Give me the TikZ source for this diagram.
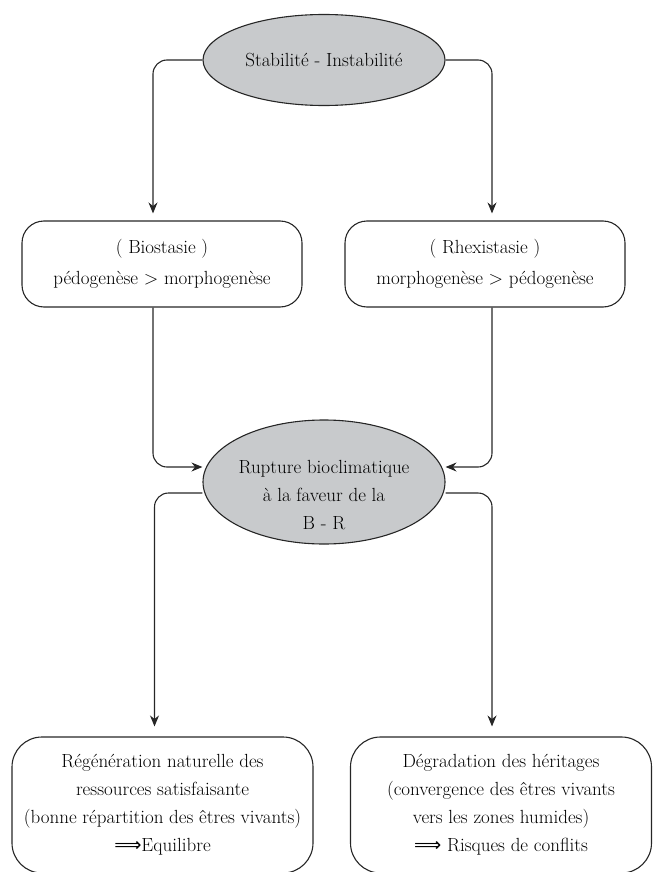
\documentclass[tikz,border=0pt]{standalone}
\usepackage{fontspec}
\usepackage{tikz}
\usetikzlibrary{arrows.meta,shapes.geometric}
\newfontfamily\arrowfont{DejaVu Sans}
\definecolor{ovalgray}{RGB}{200,202,204}

\begin{document}
\begin{tikzpicture}[
    x=1pt,
    y=-1pt,
    every node/.style={font=\fontsize{19}{28}\selectfont},
    oval/.style={ellipse, draw=black!85, line width=1.1pt, fill=ovalgray, inner sep=0pt},
    phase/.style={draw=black!85, line width=1.1pt, rounded corners=22pt, minimum width=280pt, minimum height=86pt, align=center, inner sep=0pt},
    outcome/.style={draw=black!85, line width=1.1pt, rounded corners=30pt, minimum width=301pt, minimum height=136pt, align=center, inner sep=0pt},
    flow/.style={-{Stealth[length=11pt,width=9pt]}, draw=black!85, line width=1.1pt, rounded corners=14pt}
  ]
    \useasboundingbox (0,0) rectangle (653,872);

    \node[oval, minimum width=242pt, minimum height=91pt] (stab) at (324,60) {Stabilité - Instabilité};

    \node[phase] (bio) at (162,264) {( Biostasie )\\[3pt] pédogenèse > morphogenèse};
    \node[phase] (rhex) at (485,264) {( Rhexistasie )\\[3pt] morphogenèse > pédogenèse};

    \node[oval, minimum width=242pt, minimum height=124pt] (rupt) at (324,482) {};
    \node[align=center] (ruptlabel) at (324,495) {Rupture bioclimatique\\à la faveur de la\\B - R};

    \node[outcome] (regen) at (162.5,805) {Régénération naturelle des\\ressources satisfaisante\\(bonne répartition des êtres vivants)\\{\arrowfont ⟹}Equilibre};
    \node[outcome] (degr) at (501,805) {Dégradation des héritages\\(convergence des êtres vivants\\vers les zones humides)\\{\arrowfont ⟹} Risques de conflits};

    \draw[flow, shorten >=7pt] (stab.west) -| ([xshift=-9pt]bio.north);
    \draw[flow, shorten >=7pt] (stab.east) -| ([xshift=7pt]rhex.north);
    \draw[flow] ([xshift=-9pt]bio.south) |- ([yshift=15pt]rupt.west);
    \draw[flow] ([xshift=7pt]rhex.south) |- ([yshift=15pt]rupt.east);
    \draw[flow, shorten >=10pt] ([yshift=-11pt]rupt.west) -| ([xshift=-8pt]regen.north);
    \draw[flow, shorten >=10pt] ([yshift=-11pt]rupt.east) -| ([xshift=-9pt]degr.north);
    % \node at (324,440) {B - R};
  \end{tikzpicture}
\end{document}
